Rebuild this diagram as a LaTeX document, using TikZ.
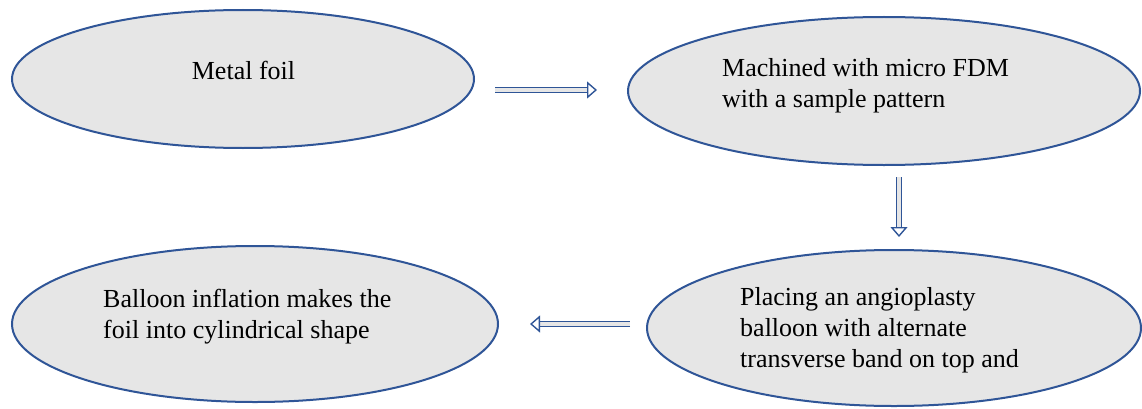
\documentclass[tikz,border=0pt]{standalone}
\usepackage{fontspec}
\setmainfont{Liberation Serif}
\usetikzlibrary{shapes.geometric,arrows.meta}
\definecolor{edgeblue}{HTML}{2F5597}
\definecolor{fillgray}{HTML}{E6E6E6}
\begin{document}
\begin{tikzpicture}[x=1pt,y=1pt,
  oval/.style={ellipse,draw=edgeblue,fill=fillgray,line width=2pt,inner sep=0pt},
  txt/.style={inner sep=0pt,align=left,font=\fontsize{26}{31}\selectfont},
  barrow/.style={draw=edgeblue,line width=1.4pt,double=fillgray,double distance=3.5pt,
    -{Triangle[open,length=10pt,width=17pt,line width=1.4pt]}}]
\useasboundingbox (0,0) rectangle (1142,408);
\node[oval,minimum width=462pt,minimum height=138pt] (e1) at (243,329) {};
\node[oval,minimum width=512pt,minimum height=148pt] (e2) at (884,317) {};
\node[oval,minimum width=494pt,minimum height=156pt] (e3) at (894,80) {};
\node[oval,minimum width=486pt,minimum height=156pt] (e4) at (255,84) {};
\node[txt,anchor=base] (t1) at (243.5,329) {Metal foil};
\node[txt,anchor=base west] (t2) at (722,301) {Machined with micro FDM\\with a sample pattern};
\node[txt,anchor=base west] (t3) at (740,41) {Placing an angioplasty\\balloon with alternate\\transverse band on top and};
\node[txt,anchor=base west] (t4) at (103,70) {Balloon inflation makes the\\foil into cylindrical shape};
\coordinate (a1s) at (495,318);
\coordinate (a1e) at (597,318);
\coordinate (a2s) at (899,231);
\coordinate (a2e) at (899,171);
\coordinate (a3s) at (630,84);
\coordinate (a3e) at (530,84);
\draw[barrow] (a1s) -- (a1e);
\draw[barrow] (a2s) -- (a2e);
\draw[barrow] (a3s) -- (a3e);
\end{tikzpicture}
\end{document}
